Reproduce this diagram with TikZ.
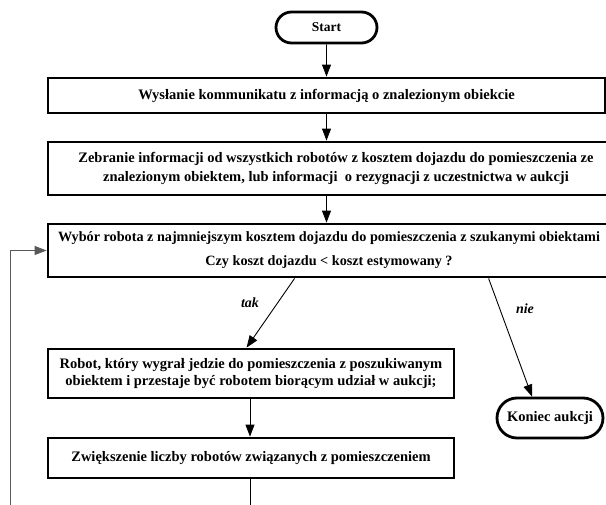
\documentclass[tikz,border=0pt]{standalone}
\usepackage{fontspec}
\setmainfont{Liberation Serif}
\usetikzlibrary{arrows.meta,shapes.misc,calc}
\tikzset{
  box/.style={draw, line width=2.8pt, rectangle, inner sep=0pt, align=center,
     font=\fontsize{14.5}{18}\selectfont\bfseries},
  term/.style={draw, line width=2.8pt, rounded rectangle, inner sep=0pt,
     font=\fontsize{14.5}{18}\selectfont\bfseries},
  conn/.style={line width=0.9pt, -{Triangle[length=12pt,width=9pt]}},
  plain/.style={line width=0.9pt},
  loopline/.style={line width=0.8pt, draw=black!65, -{Triangle[length=12pt,width=9pt]}},
  lab/.style={font=\fontsize{14}{16}\selectfont\bfseries\itshape}
}
\begin{document}
\begin{tikzpicture}[x=1pt,y=-1pt]
\useasboundingbox (0,0) rectangle (606,505);
\clip (0,0) rectangle (606,505);
\node[term, minimum width=101pt, minimum height=31pt, font=\fontsize{13.5}{16}\selectfont\bfseries] (start) at (326.5,27.5) {Start};
\node[box, minimum width=557pt, minimum height=35pt] (b1) at (326.5,95.5) {Wysłanie kommunikatu z informacją o znalezionym obiekcie};
\node[box, minimum width=576pt, minimum height=53pt, font=\fontsize{14.5}{19}\selectfont\bfseries] (b2) at (336,168.5) {Zebranie informacji od wszystkich robotów z kosztem dojazdu do pomieszczenia ze\\znalezionym obiektem, lub informacji\ \ o rezygnacji z uczestnictwa w aukcji};
\node[box, minimum width=562pt, minimum height=53pt, font=\fontsize{14.2}{24}\selectfont\bfseries] (b3) at (329,250.5) {Wybór robota z najmniejszym kosztem dojazdu do pomieszczenia z szukanymi obiektami\\Czy koszt dojazdu < koszt estymowany ?};
\node[box, minimum width=406pt, minimum height=49pt, font=\fontsize{14.5}{17}\selectfont\bfseries] (b4) at (251,373.5) {Robot, który wygrał jedzie do pomieszczenia z poszukiwanym\\obiektem i przestaje być robotem biorącym udział w aukcji;};
\node[box, minimum width=406pt, minimum height=40pt] (b5) at (251,458) {Zwiększenie liczby robotów związanych z pomieszczeniem};
\node[term, minimum width=106pt, minimum height=40pt] (kon) at (550,418) {Koniec aukcji};
\coordinate (bottom) at (250,510);
\coordinate (loopb) at (10,510);
\coordinate (tak0) at ($(b3.south west)+(248,0)$);
\coordinate (tak1) at ($(b4.north west)+(200,0)$);
\coordinate (nie0) at ($(b3.south west)+(442,0)$);
\coordinate (nie1) at ($(kon.north)+(-18,0)$);
\draw[conn] (start) -- (b1);
\draw[conn] (b1.south -| start) -- (b2.north -| start);
\draw[conn] (b2.south -| start) -- (b3.north -| start);
\draw[conn] (tak0) -- (tak1);
\draw[conn] (nie0) -- (nie1);
\draw[conn] (b4.south -| 250,0) -- (b5.north -| 250,0);
\draw[plain] (b5.south -| bottom) -- (bottom);
\draw[loopline] (loopb) |- (b3.west);
\node[lab] (tak) at (250,303) {tak};
\node[lab] (nie) at (525,309) {nie};
\end{tikzpicture}
\end{document}
